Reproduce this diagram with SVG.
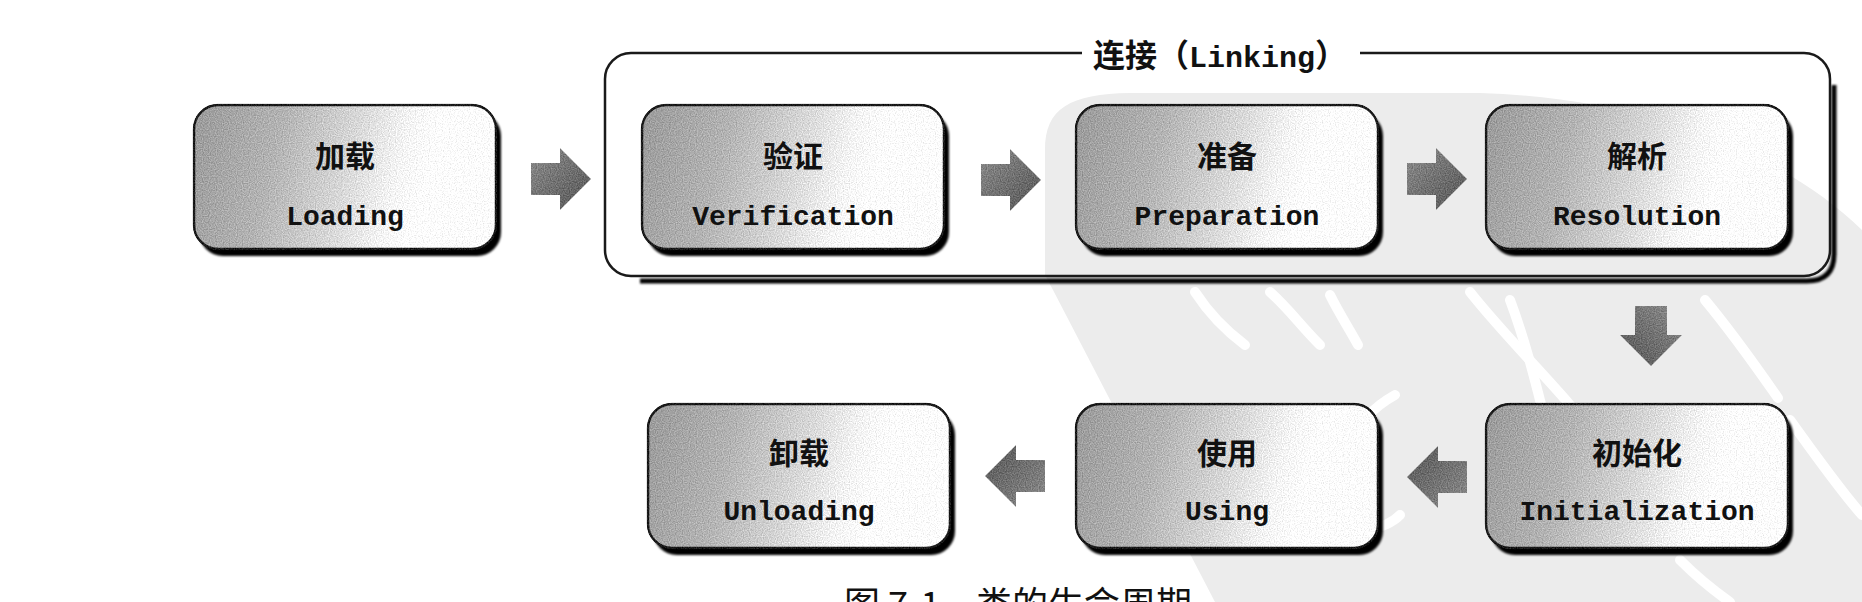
<svg xmlns="http://www.w3.org/2000/svg" width="1862" height="602" viewBox="0 0 1862 602">
<defs>
  <linearGradient id="boxFill" x1="0" y1="0" x2="1" y2="0.12">
    <stop offset="0" stop-color="#9a9a9a"/>
    <stop offset="0.3" stop-color="#b3b3b3"/>
    <stop offset="0.55" stop-color="#d8d8d8"/>
    <stop offset="0.72" stop-color="#f5f5f5"/>
    <stop offset="0.82" stop-color="#ffffff"/>
  </linearGradient>
  <linearGradient id="arrowFill" x1="0" y1="0" x2="1" y2="1">
    <stop offset="0" stop-color="#8c8c8c"/>
    <stop offset="1" stop-color="#555555"/>
  </linearGradient>
  <filter id="grain" color-interpolation-filters="sRGB">
    <feTurbulence type="fractalNoise" baseFrequency="0.85" numOctaves="1" seed="3" result="n"/>
    <feColorMatrix in="n" type="matrix" values="1 0 0 0 0  1 0 0 0 0  1 0 0 0 0  0 0 0 0 1" result="g"/>
    <feComposite in="SourceGraphic" in2="g" operator="arithmetic" k1="0" k2="1" k3="0.38" k4="-0.19" result="m"/>
    <feComposite in="m" in2="SourceAlpha" operator="in"/>
  </filter>
  <filter id="shadow" x="-5%" y="-5%" width="110%" height="115%">
    <feGaussianBlur stdDeviation="1.3"/>
  </filter>
  <path id="arrowR" d="M-30,-16 L-1,-16 L-1,-31 L30,0 L-1,31 L-1,16 L-30,16 Z"/>
  <style>
    .box { fill: url(#boxFill); stroke: #1a1a1a; stroke-width: 2.5; filter: url(#grain); }
    .shd { fill: #000; filter: url(#shadow); }
    .zh { font-family: "Noto Sans CJK SC", sans-serif; font-weight: 700; font-size: 30px; fill: #111; text-anchor: middle; }
    .en { font-family: "Liberation Mono", monospace; font-weight: 700; font-size: 28px; fill: #111; text-anchor: middle; }
    .arrow { fill: url(#arrowFill); filter: url(#grain); }
    .wm { fill: #ececec; }
    .wms { fill: none; stroke: #ffffff; stroke-width: 10; stroke-linecap: round; }
    .cap { font-family: "Noto Sans CJK SC", sans-serif; font-weight: 400; font-size: 36px; fill: #111; }
  </style>
</defs>
<rect x="0" y="0" width="1862" height="602" fill="#ffffff"/>

<g id="watermark">
  <path class="wm" d="M1045,150 C1045,108 1070,94 1130,93 L1480,93 C1640,98 1780,150 1862,230 L1862,602 L1215,602 L1053,290 L1045,275 Z"/>
  <path class="wms" d="M1195,292 C1210,315 1225,330 1245,345"/>
  <path class="wms" d="M1270,292 C1290,310 1300,325 1320,345"/>
  <path class="wms" d="M1330,295 C1340,315 1350,330 1358,345"/>
  <path class="wms" d="M1470,292 C1500,330 1540,370 1570,405"/>
  <path class="wms" d="M1510,300 C1525,340 1535,380 1545,420"/>
  <path class="wms" d="M1705,300 C1730,330 1755,365 1778,398"/>
  <path class="wms" d="M1395,395 C1350,420 1330,470 1345,510 C1355,535 1385,530 1400,515"/>
  <path class="wms" d="M1790,420 C1815,455 1840,490 1862,515"/>
  <path class="wms" d="M1680,560 C1700,580 1720,595 1730,602"/>
</g>

<g id="connectors">
  <use href="#arrowR" class="arrow" transform="translate(561,179)"/>
  <use href="#arrowR" class="arrow" transform="translate(1011,180)"/>
  <use href="#arrowR" class="arrow" transform="translate(1437,179)"/>
  <use href="#arrowR" class="arrow" transform="translate(1651,336) rotate(90)"/>
  <use href="#arrowR" class="arrow" transform="translate(1437,477) rotate(180)"/>
  <use href="#arrowR" class="arrow" transform="translate(1015,476) rotate(180)"/>
</g>

<g id="linking">
  <path d="M1834,85 L1834,254 Q1834,281 1807,281 L640,281" fill="none" stroke="#000" stroke-width="5" filter="url(#shadow)"/>
  <rect x="605" y="53" width="1225" height="223" rx="26" fill="none" stroke="#1a1a1a" stroke-width="2.5"/>
  <rect x="1082" y="40" width="278" height="28" fill="#ffffff"/>
  <text x="1220" y="67" text-anchor="middle" fill="#111"><tspan font-family="Noto Sans CJK SC, sans-serif" font-weight="700" font-size="32">连接（</tspan><tspan font-family="Liberation Mono, monospace" font-weight="700" font-size="30">Linking</tspan><tspan font-family="Noto Sans CJK SC, sans-serif" font-weight="700" font-size="32">）</tspan></text>
</g>

<g id="loading">
  <rect class="shd" x="199" y="112" width="302" height="144" rx="24"/>
  <rect class="box" x="194" y="105" width="302" height="144" rx="24"/>
  <text class="zh" x="345" y="167">加载</text>
  <text class="en" x="345" y="225">Loading</text>
</g>

<g id="verification">
  <rect class="shd" x="647" y="112" width="302" height="144" rx="24"/>
  <rect class="box" x="642" y="105" width="302" height="144" rx="24"/>
  <text class="zh" x="793" y="167">验证</text>
  <text class="en" x="793" y="225">Verification</text>
</g>

<g id="preparation">
  <rect class="shd" x="1081" y="112" width="302" height="144" rx="24"/>
  <rect class="box" x="1076" y="105" width="302" height="144" rx="24"/>
  <text class="zh" x="1227" y="167">准备</text>
  <text class="en" x="1227" y="225">Preparation</text>
</g>

<g id="resolution">
  <rect class="shd" x="1491" y="112" width="302" height="144" rx="24"/>
  <rect class="box" x="1486" y="105" width="302" height="144" rx="24"/>
  <text class="zh" x="1637" y="167">解析</text>
  <text class="en" x="1637" y="225">Resolution</text>
</g>

<g id="initialization">
  <rect class="shd" x="1491" y="411" width="302" height="144" rx="24"/>
  <rect class="box" x="1486" y="404" width="302" height="144" rx="24"/>
  <text class="zh" x="1637" y="464">初始化</text>
  <text class="en" x="1637" y="520">Initialization</text>
</g>

<g id="using">
  <rect class="shd" x="1081" y="411" width="302" height="144" rx="24"/>
  <rect class="box" x="1076" y="404" width="302" height="144" rx="24"/>
  <text class="zh" x="1227" y="464">使用</text>
  <text class="en" x="1227" y="520">Using</text>
</g>

<g id="unloading">
  <rect class="shd" x="653" y="411" width="302" height="144" rx="24"/>
  <rect class="box" x="648" y="404" width="302" height="144" rx="24"/>
  <text class="zh" x="799" y="464">卸载</text>
  <text class="en" x="799" y="520">Unloading</text>
</g>

<text class="cap" x="844" y="618">图 7-1<tspan x="976">类的生命周期</tspan></text>
</svg>
